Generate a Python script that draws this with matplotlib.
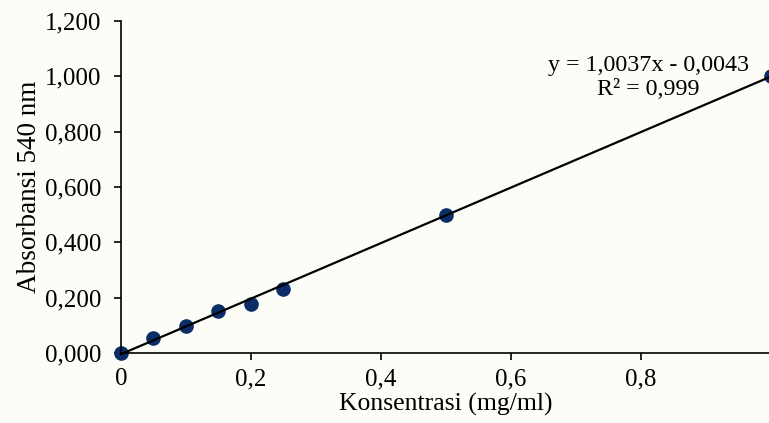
import numpy as np
import matplotlib.pyplot as plt
from matplotlib.ticker import FuncFormatter

plt.rcParams['font.family'] = ['Liberation Serif', 'DejaVu Serif']

# standard curve data
konsentrasi = [0, 0.05, 0.1, 0.15, 0.2, 0.25, 0.5, 1.0]
absorbansi = [0.000, 0.055, 0.099, 0.152, 0.178, 0.231, 0.500, 1.000]

# linear trendline
slope = 1.0037
intercept = -0.0043
r2 = 0.999

bg = '#fcfdf6'
fig = plt.figure(figsize=(7.69, 4.23), dpi=100, facecolor=bg)
ax = fig.add_axes([0.1573, 0.1655, 0.8453, 0.7849], facecolor=bg)

xfit = np.array([0, 1.0])
ax.plot(xfit, slope * xfit + intercept, color='black', lw=1.6, zorder=3,
        clip_on=False)
ax.plot(konsentrasi, absorbansi, 'o', color='#0b2d66', ms=9.5, zorder=2,
        clip_on=False)

ax.set_xlim(0, 1.0)
ax.set_ylim(0, 1.2)
ax.set_xticks([0, 0.2, 0.4, 0.6, 0.8])
ax.set_yticks(np.arange(0, 1.21, 0.2))
ax.xaxis.set_major_formatter(FuncFormatter(
    lambda v, p: '0' if v == 0 else f'{v:.1f}'.replace('.', ',')))
ax.yaxis.set_major_formatter(FuncFormatter(
    lambda v, p: f'{v:,.3f}'.replace('.', ',')))

for s in ['top', 'right']:
    ax.spines[s].set_visible(False)
for s in ['left', 'bottom']:
    ax.spines[s].set_linewidth(1.2)
ax.tick_params(axis='both', direction='out', length=5, width=1.2,
               labelsize=18)
ax.tick_params(axis='y', pad=9)
ax.tick_params(axis='x', pad=6)

ax.set_xlabel('Konsentrasi (mg/ml)', fontsize=18.5, labelpad=2)
ax.set_ylabel('Absorbansi 540 nm', fontsize=19.5, labelpad=2)

# equation label in axes coordinates
eq = f'y = {slope:.4f}x - {abs(intercept):.4f}'.replace('.', ',')
r2_txt = f'R² = {r2:.3f}'.replace('.', ',')
ax.text(0.811, 0.83, eq + '\n' + r2_txt, ha='center', va='center',
        fontsize=17.3, linespacing=1.15, transform=ax.transAxes)

fig.savefig('out.png', dpi=100, facecolor=bg)
